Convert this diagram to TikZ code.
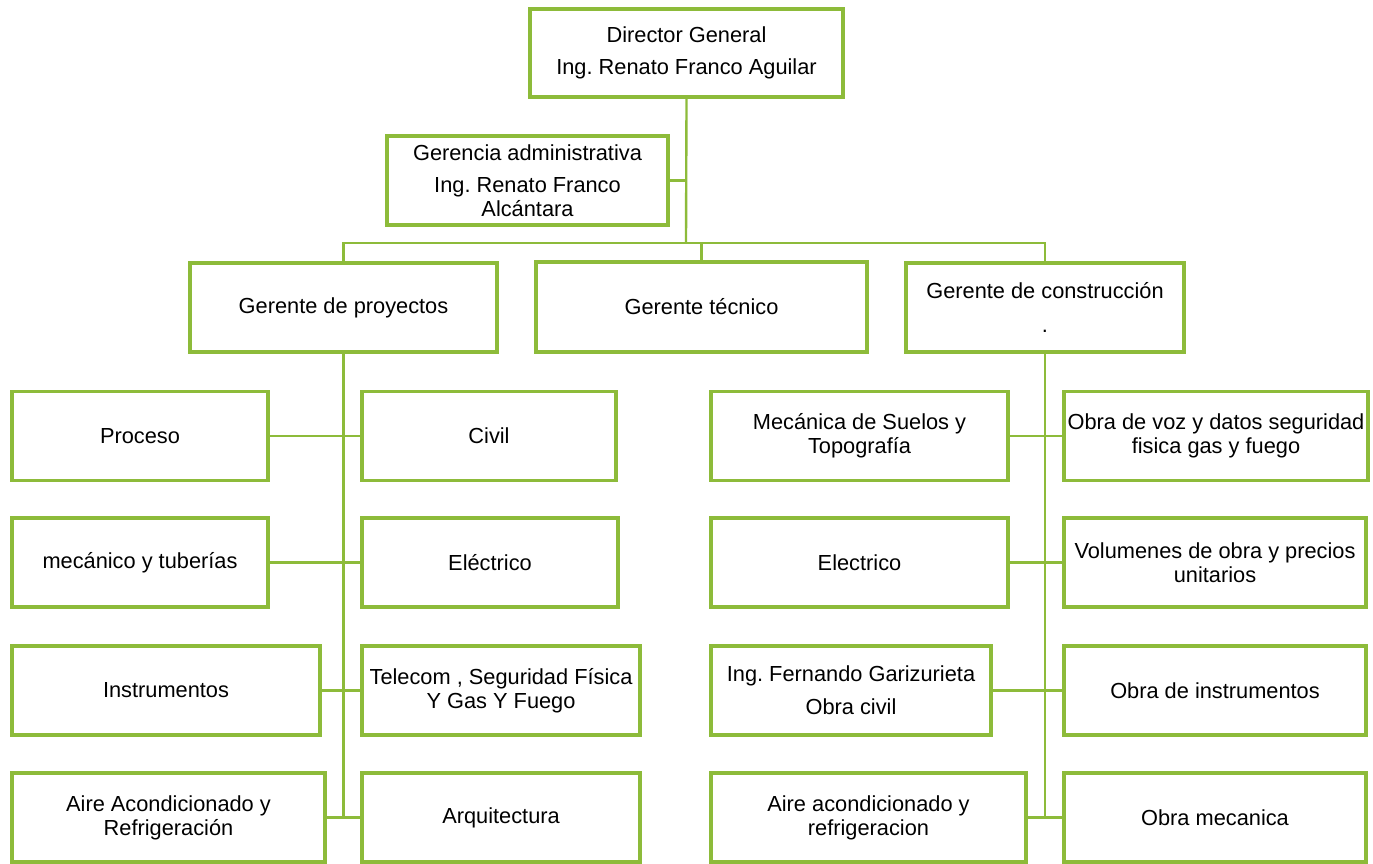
\documentclass[tikz,border=0pt]{standalone}
\usepackage{fontspec}
\setmainfont{Liberation Sans}
\usetikzlibrary{positioning}
\definecolor{verde}{RGB}{141,187,58}
\frenchspacing

\begin{document}
\begin{tikzpicture}[
    % --- box style ---
    caja/.style={draw=verde, line width=1.9pt, minimum height=1.78cm, align=center,
                 inner sep=0pt, font=\fontsize{12.4}{13.6}\selectfont},
    % --- connector style ---
    linea/.style={draw=verde, line width=1.35pt},
]
\useasboundingbox (0,0) rectangle (27.46,-17.26);

%% ---- TOP LEVEL ----
\node[caja, minimum width=6.26cm, minimum height=1.76cm] (dir) at (13.73,-1.06)
    {Director General\\[5pt]Ing. Renato Franco Aguilar};
\node[caja, minimum width=5.62cm] (adm) at (10.55,-3.61)
    {Gerencia administrativa\\[5pt]Ing. Renato Franco\\Alcántara};

%% ---- MANAGERS ----
\node[caja, minimum width=6.14cm] (proy) at (6.87,-6.15) {Gerente de proyectos};
\node[caja, minimum width=6.62cm, minimum height=1.80cm] (tec) at (14.03,-6.14) {Gerente técnico};
\node[caja, minimum width=5.56cm] (cons) at (20.90,-6.15) {Gerente de construcción\\[6pt].};

%% ---- PROJECTS (left) ----
\node[caja, minimum width=5.12cm] (proc)  at ( 2.80, -8.72) {Proceso};
\node[caja, minimum width=5.08cm] (civil) at ( 9.78, -8.72) {Civil};
\node[caja, minimum width=5.12cm] (mec)   at ( 2.80,-11.25) {mecánico y tuberías};
\node[caja, minimum width=5.12cm] (elec)  at ( 9.80,-11.25) {Eléctrico};
\node[caja, minimum width=6.16cm] (inst)  at ( 3.32,-13.81) {Instrumentos};
\node[caja, minimum width=5.56cm] (tele)  at (10.02,-13.81) {Telecom , Seguridad Física\\Y Gas Y Fuego};
\node[caja, minimum width=6.26cm] (aire)  at ( 3.37,-16.35) {Aire Acondicionado y\\Refrigeración};
\node[caja, minimum width=5.56cm] (arq)   at (10.02,-16.35) {Arquitectura};

%% ---- CONSTRUCTION (right) ----
\node[caja, minimum width=5.94cm] (suelo) at (17.19, -8.72) {Mecánica de Suelos y\\Topografía};
\node[caja, minimum width=6.08cm] (voz)   at (24.32, -8.72) {Obra de voz y datos seguridad\\fisica gas y fuego};
\node[caja, minimum width=5.94cm] (relec) at (17.19,-11.25) {Electrico};
\node[caja, minimum width=6.04cm] (vol)   at (24.30,-11.25) {Volumenes de obra y precios\\unitarios};
\node[caja, minimum width=5.60cm] (fer)   at (17.02,-13.81) {Ing. Fernando Garizurieta\\[5pt]Obra civil};
\node[caja, minimum width=6.04cm] (oins)  at (24.30,-13.81) {Obra de instrumentos};
\node[caja, minimum width=6.30cm] (raire) at (17.37,-16.35) {Aire acondicionado y\\refrigeracion};
\node[caja, minimum width=6.04cm] (omec)  at (24.30,-16.35) {Obra mecanica};

%% ---- CONNECTORS ----
\coordinate (bus) at (13.72,-4.86);
\draw[linea] (dir.south) -- (bus);
\draw[linea] (adm.east) -- (adm.east -| dir.south);
\draw[linea] (proy.north) |- (bus) -| (cons.north);
\draw[linea] (tec.north) -- (tec.north |- bus);

%% left spine
\draw[linea] (proy.south) -- (proy.south |- aire.east);
\draw[linea] (proc.east) -- (civil.west);
\draw[linea] (mec.east)  -- (elec.west);
\draw[linea] (inst.east) -- (tele.west);
\draw[linea] (aire.east) -- (arq.west);

%% right spine
\draw[linea] (cons.south) -- (cons.south |- raire.east);
\draw[linea] (suelo.east) -- (voz.west);
\draw[linea] (relec.east) -- (vol.west);
\draw[linea] (fer.east)   -- (oins.west);
\draw[linea] (raire.east) -- (omec.west);

\end{tikzpicture}
\end{document}
